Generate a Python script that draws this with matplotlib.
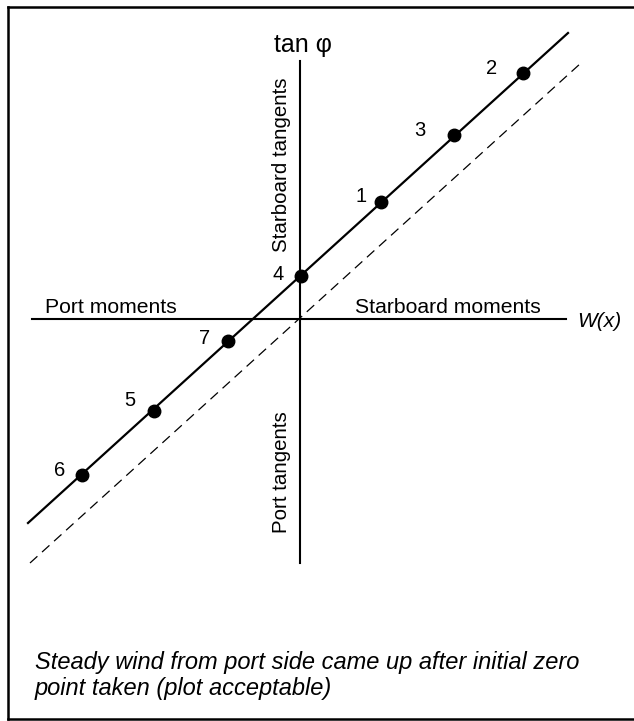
import matplotlib
matplotlib.use("Agg")
import matplotlib.pyplot as plt
from matplotlib.lines import Line2D

plt.rcParams['font.family'] = ['Liberation Sans', 'DejaVu Sans']

# observation points (W(x), tan phi), arbitrary units
point_ids = ['1', '2', '3', '4', '5', '6', '7']
moments = [8.1, 22.3, 15.4, 0.1, -14.6, -21.8, -7.2]
tangents = [11.7, 24.6, 18.4, 4.3, -9.2, -15.6, -2.2]

# fitted line through the points, and the ideal line through zero
fit_x = [-27.2, 26.8]
fit_y = [-20.4, 28.6]
ideal_x = [-27.0, 28.1]
ideal_y = [-24.4, 25.6]

# axis extents
haxis_x = [-26.8, 26.6]
vaxis_y = [-24.4, 25.8]

caption = ["Steady wind from port side came up after initial zero",
           "point taken (plot acceptable)"]

W, H = 634, 721
fig = plt.figure(figsize=(W / 100, H / 100), dpi=100)
ax = fig.add_axes([0, 0, 1, 1])
ax.set_xlim(-30.0, 33.4)
ax.set_ylim(-40.2, 31.9)
ax.axis('off')

# outer frame (open on the right side)
frame_kw = dict(color='black', linewidth=1.8, transform=fig.transFigure)
fig.add_artist(Line2D([8 / W, 1], [1 - 7 / H, 1 - 7 / H], **frame_kw))
fig.add_artist(Line2D([8 / W, 8 / W], [1 - 7 / H, 1 - 719 / H], **frame_kw))
fig.add_artist(Line2D([8 / W, 1], [1 - 719 / H, 1 - 719 / H], **frame_kw))

# axes
ax.plot(haxis_x, [0, 0], color='black', linewidth=1.5)
ax.plot([0, 0], vaxis_y, color='black', linewidth=1.5)

ax.plot(ideal_x, ideal_y, color='black', linewidth=0.9, dashes=(8, 5))
ax.plot(fit_x, fit_y, color='black', linewidth=1.6)
ax.plot(moments, tangents, 'o', color='black', markersize=9)

offsets = {'1': (-20, 5), '2': (-31, 5), '3': (-34, 5), '4': (-23, 1),
           '5': (-24, 10), '6': (-22, 4), '7': (-23, 2)}
for pid, xv, yv in zip(point_ids, moments, tangents):
    ax.annotate(pid, (xv, yv), xytext=offsets[pid], textcoords='offset pixels',
                ha='center', va='center', fontsize=14.5)

ax.text(0.3, 27.4, 'tan φ', ha='center', va='center', fontsize=18)
ax.text(-1.8, 15.4, 'Starboard tangents', rotation=90, ha='center', va='center', fontsize=14.8)
ax.text(-1.8, -15.3, 'Port tangents', rotation=90, ha='center', va='center', fontsize=14.8)
ax.text(-25.5, 0.6, 'Port moments', ha='left', va='baseline', fontsize=15.2)
ax.text(5.5, 0.6, 'Starboard moments', ha='left', va='baseline', fontsize=15.2)
ax.text(27.7, -0.3, 'W(x)', ha='left', va='center', fontsize=15, style='italic')

ax.text(-26.5, -35.0, caption[0], ha='left', va='baseline', fontsize=17, style='italic')
ax.text(-26.5, -37.6, caption[1], ha='left', va='baseline', fontsize=17, style='italic')

fig.savefig('out.png', dpi=100, facecolor='white')
